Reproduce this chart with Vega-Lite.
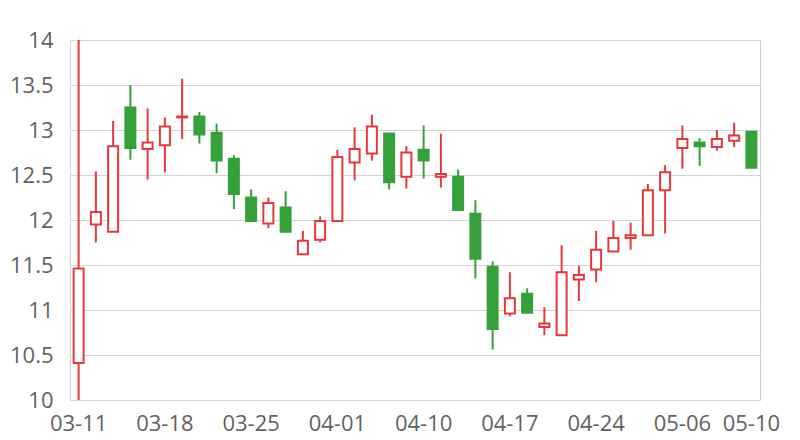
{
  "$schema": "https://vega.github.io/schema/vega-lite/v6.json",
  "width": 690,
  "height": 360,
  "autosize": {"type": "none"},
  "padding": {"left": 70, "top": 40, "right": 40, "bottom": 40},
  "background": "white",
  "config": {
    "view": {"stroke": "#d0d0d0", "strokeWidth": 1},
    "font": "Open Sans",
    "axis": {"labelFont": "Open Sans", "labelFontSize": 22, "labelColor": "#626262", "ticks": false, "domain": false, "gridColor": "#d4d4d4", "gridWidth": 1}
  },
  "data": {"values": [
    {"date": "03-11", "o": 10.41, "h": 14.0, "l": 10.0, "c": 11.46},
    {"date": "03-12", "o": 11.95, "h": 12.54, "l": 11.75, "c": 12.09},
    {"date": "03-13", "o": 11.87, "h": 13.10, "l": 11.87, "c": 12.82},
    {"date": "03-14", "o": 13.25, "h": 13.50, "l": 12.67, "c": 12.80},
    {"date": "03-15", "o": 12.79, "h": 13.24, "l": 12.45, "c": 12.86},
    {"date": "03-18", "o": 12.83, "h": 13.14, "l": 12.53, "c": 13.04},
    {"date": "03-19", "o": 13.14, "h": 13.57, "l": 12.90, "c": 13.15},
    {"date": "03-20", "o": 13.15, "h": 13.20, "l": 12.85, "c": 12.95},
    {"date": "03-21", "o": 12.97, "h": 13.07, "l": 12.52, "c": 12.66},
    {"date": "03-22", "o": 12.68, "h": 12.72, "l": 12.12, "c": 12.29},
    {"date": "03-25", "o": 12.25, "h": 12.34, "l": 11.98, "c": 11.99},
    {"date": "03-26", "o": 11.96, "h": 12.25, "l": 11.91, "c": 12.19},
    {"date": "03-27", "o": 12.14, "h": 12.32, "l": 11.87, "c": 11.87},
    {"date": "03-28", "o": 11.62, "h": 11.88, "l": 11.62, "c": 11.77},
    {"date": "03-29", "o": 11.78, "h": 12.04, "l": 11.75, "c": 11.99},
    {"date": "04-01", "o": 11.99, "h": 12.78, "l": 11.99, "c": 12.70},
    {"date": "04-02", "o": 12.64, "h": 13.03, "l": 12.44, "c": 12.79},
    {"date": "04-03", "o": 12.74, "h": 13.17, "l": 12.66, "c": 13.04},
    {"date": "04-08", "o": 12.96, "h": 12.96, "l": 12.34, "c": 12.42},
    {"date": "04-09", "o": 12.48, "h": 12.82, "l": 12.35, "c": 12.75},
    {"date": "04-10", "o": 12.78, "h": 13.05, "l": 12.46, "c": 12.66},
    {"date": "04-11", "o": 12.48, "h": 12.96, "l": 12.36, "c": 12.51},
    {"date": "04-12", "o": 12.48, "h": 12.56, "l": 12.11, "c": 12.11},
    {"date": "04-15", "o": 12.07, "h": 12.22, "l": 11.35, "c": 11.57},
    {"date": "04-16", "o": 11.48, "h": 11.54, "l": 10.56, "c": 10.79},
    {"date": "04-17", "o": 10.96, "h": 11.42, "l": 10.93, "c": 11.13},
    {"date": "04-18", "o": 11.18, "h": 11.24, "l": 10.96, "c": 10.97},
    {"date": "04-19", "o": 10.81, "h": 11.03, "l": 10.72, "c": 10.85},
    {"date": "04-22", "o": 10.72, "h": 11.72, "l": 10.72, "c": 11.42},
    {"date": "04-23", "o": 11.34, "h": 11.49, "l": 11.10, "c": 11.39},
    {"date": "04-24", "o": 11.45, "h": 11.88, "l": 11.31, "c": 11.67},
    {"date": "04-25", "o": 11.65, "h": 11.99, "l": 11.65, "c": 11.80},
    {"date": "04-26", "o": 11.80, "h": 11.97, "l": 11.67, "c": 11.83},
    {"date": "04-29", "o": 11.83, "h": 12.40, "l": 11.83, "c": 12.33},
    {"date": "04-30", "o": 12.33, "h": 12.61, "l": 11.85, "c": 12.53},
    {"date": "05-06", "o": 12.80, "h": 13.05, "l": 12.57, "c": 12.90},
    {"date": "05-07", "o": 12.86, "h": 12.91, "l": 12.60, "c": 12.82},
    {"date": "05-08", "o": 12.81, "h": 13.00, "l": 12.77, "c": 12.90},
    {"date": "05-09", "o": 12.88, "h": 13.08, "l": 12.81, "c": 12.94},
    {"date": "05-10", "o": 12.98, "h": 12.98, "l": 12.58, "c": 12.58}
  ]},
  "encoding": {
    "x": {
      "field": "date", "type": "ordinal", "sort": null, "title": null,
      "scale": {"paddingInner": 0, "paddingOuter": 0},
      "axis": {"values": ["03-11","03-18","03-25","04-01","04-10","04-17","04-24","05-06","05-10"], "labelAngle": 0, "labelPadding": 13, "grid": false}
    }
  },
  "layer": [
    {
      "mark": {"type": "rule", "strokeWidth": 2},
      "encoding": {
        "y": {"field": "l", "type": "quantitative", "title": null,
              "scale": {"domain": [10, 14], "zero": false, "nice": false},
              "axis": {"values": [10, 10.5, 11, 11.5, 12, 12.5, 13, 13.5, 14], "format": "~g", "labelPadding": 17, "grid": true}},
        "y2": {"field": "h"},
        "color": {"condition": {"test": "datum.c >= datum.o", "value": "#e5383d"}, "value": "#36a03a"}
      }
    },
    {
      "mark": {"type": "bar", "width": {"band": 0.58}, "strokeWidth": 2},
      "encoding": {
        "y": {"field": "o", "type": "quantitative"},
        "y2": {"field": "c"},
        "fill": {"condition": {"test": "datum.c >= datum.o", "value": "white"}, "value": "#36a03a"},
        "stroke": {"condition": {"test": "datum.c >= datum.o", "value": "#e5383d"}, "value": "#36a03a"}
      }
    }
  ]
}
